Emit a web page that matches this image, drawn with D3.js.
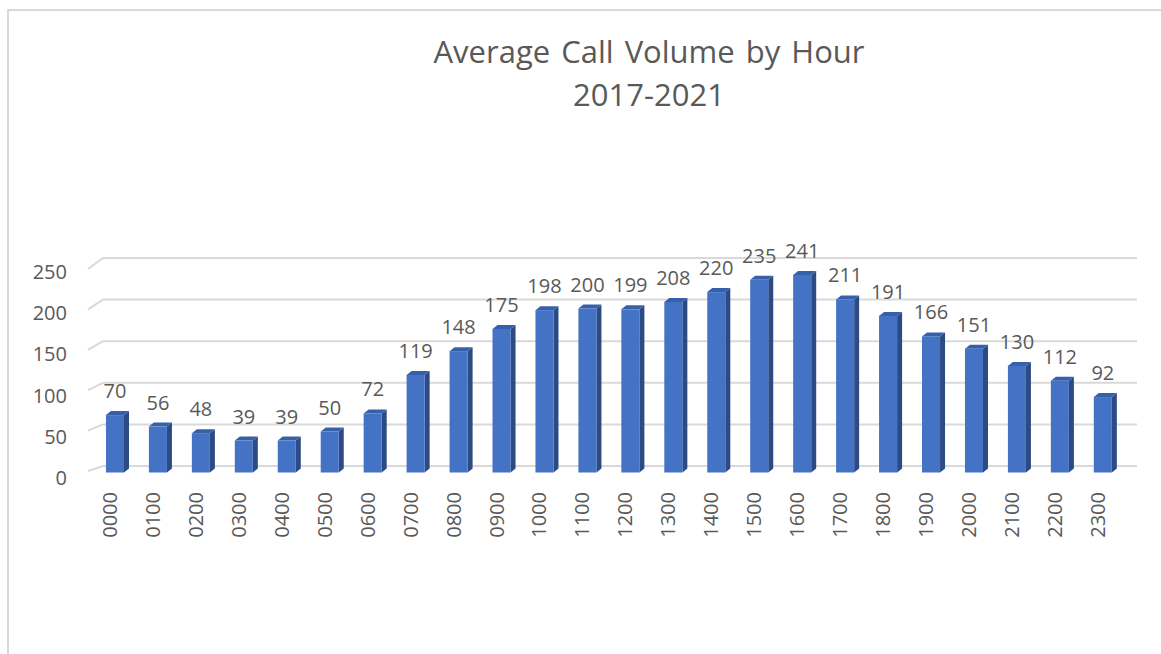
<!DOCTYPE html>
<html>
<head>
<meta charset="utf-8">
<script src="https://cdn.jsdelivr.net/npm/d3@7"></script>
<style>
  html, body { margin: 0; padding: 0; background: #fff; }
  svg { display: block; }
  text { font-family: "Open Sans", sans-serif; fill: #595959; }
</style>
</head>
<body>
<script>
'use strict';

const hours = ["0000", "0100", "0200", "0300", "0400", "0500", "0600", "0700", "0800", "0900",
  "1000", "1100", "1200", "1300", "1400", "1500", "1600", "1700", "1800", "1900",
  "2000", "2100", "2200", "2300"];
const calls = [70, 56, 48, 39, 39, 50, 72, 119, 148, 175,
  198, 200, 199, 208, 220, 235, 241, 211, 191, 166,
  151, 130, 112, 92];
const yTicks = [0, 50, 100, 150, 200, 250];
const titleLines = ["Average Call Volume by Hour", "2017-2021"];

(function () {
  const width = 1161, height = 654;
  const depthX = 5, depthY = 4;   // bar 3d offset

  const svg = d3.select('body').append('svg')
    .attr('width', width)
    .attr('height', height);

  // chart frame
  svg.append('rect')
    .attr('x', 8).attr('y', 10)
    .attr('width', 1300).attr('height', 800)
    .attr('fill', '#fff')
    .attr('stroke', '#d9d9d9')
    .attr('stroke-width', 2);

  // title
  svg.append('text')
    .attr('x', 649).attr('y', 63)
    .attr('text-anchor', 'middle')
    .style('font-size', '31px')
    .style('word-spacing', '3px')
    .text(titleLines[0]);
  svg.append('text')
    .attr('x', 649).attr('y', 106)
    .attr('text-anchor', 'middle')
    .style('font-size', '31px')
    .text(titleLines[1]);

  // scales: front plane (side wall edge), back wall, bars, labels
  const yFront = d3.scaleLinear().domain([0, 250]).range([471, 269]);
  const yBack = d3.scaleLinear().domain([0, 250]).range([466, 258]);
  const yBar = d3.scaleLinear().domain([0, 250]).range([472.5, 267.5]);
  const yLabel = d3.scaleLinear().domain([0, 250]).range([478, 272]);

  const x = d3.scaleBand()
    .domain(hours)
    .range([93.5, 93.5 + 24 * 42.95])
    .paddingInner(0.58)
    .paddingOuter(0.29);

  // gridlines on back wall + side wall
  const grid = svg.append('g');
  yTicks.forEach(function (t) {
    grid.append('line')
      .attr('x1', 88).attr('y1', yFront(t))
      .attr('x2', 103).attr('y2', yBack(t))
      .attr('stroke', '#d9d9d9').attr('stroke-width', 2);
    grid.append('line')
      .attr('x1', 103).attr('y1', yBack(t))
      .attr('x2', 1137).attr('y2', yBack(t))
      .attr('stroke', '#d9d9d9').attr('stroke-width', 2);
  });

  // y axis labels
  svg.append('g').selectAll('text')
    .data(yTicks)
    .enter()
    .append('text')
    .attr('x', 67)
    .attr('y', function (d) { return yLabel(d); })
    .attr('dy', '0.35em')
    .attr('text-anchor', 'end')
    .style('font-size', '20px')
    .text(function (d) { return d; });

  // bars
  const bars = svg.append('g').selectAll('g')
    .data(hours.map(function (h, i) { return { hour: h, value: calls[i] }; }))
    .enter()
    .append('g');

  const bw = x.bandwidth();

  bars.append('polygon')
    .attr('fill', '#2c4b85')
    .attr('points', function (d) {
      const x1 = x(d.hour) + bw, yt = yBar(d.value), yb = yBar(0);
      return [[x1, yt], [x1 + depthX, yt - depthY], [x1 + depthX, yb - depthY], [x1, yb]].join(' ');
    });

  bars.append('polygon')
    .attr('fill', '#3760ab')
    .attr('points', function (d) {
      const x0 = x(d.hour), x1 = x0 + bw, yt = yBar(d.value);
      return [[x0, yt], [x0 + depthX, yt - depthY], [x1 + depthX, yt - depthY], [x1, yt]].join(' ');
    });

  bars.append('rect')
    .attr('x', function (d) { return x(d.hour); })
    .attr('y', function (d) { return yBar(d.value); })
    .attr('width', bw)
    .attr('height', function (d) { return yBar(0) - yBar(d.value); })
    .attr('fill', '#4472c4');

  // data labels
  bars.append('text')
    .attr('x', function (d) { return x(d.hour) + bw / 2; })
    .attr('y', function (d) { return yBar(d.value) - 17; })
    .attr('text-anchor', 'middle')
    .style('font-size', '20px')
    .text(function (d) { return d.value; });

  // x axis labels (rotated)
  svg.append('g').selectAll('text')
    .data(hours)
    .enter()
    .append('text')
    .attr('transform', function (d) {
      return 'translate(' + (x(d) + bw / 2 - 5) + ',492)rotate(-90)';
    })
    .attr('dy', '0.35em')
    .attr('text-anchor', 'end')
    .style('font-size', '20px')
    .text(function (d) { return d; });
})();
</script>
</body>
</html>
